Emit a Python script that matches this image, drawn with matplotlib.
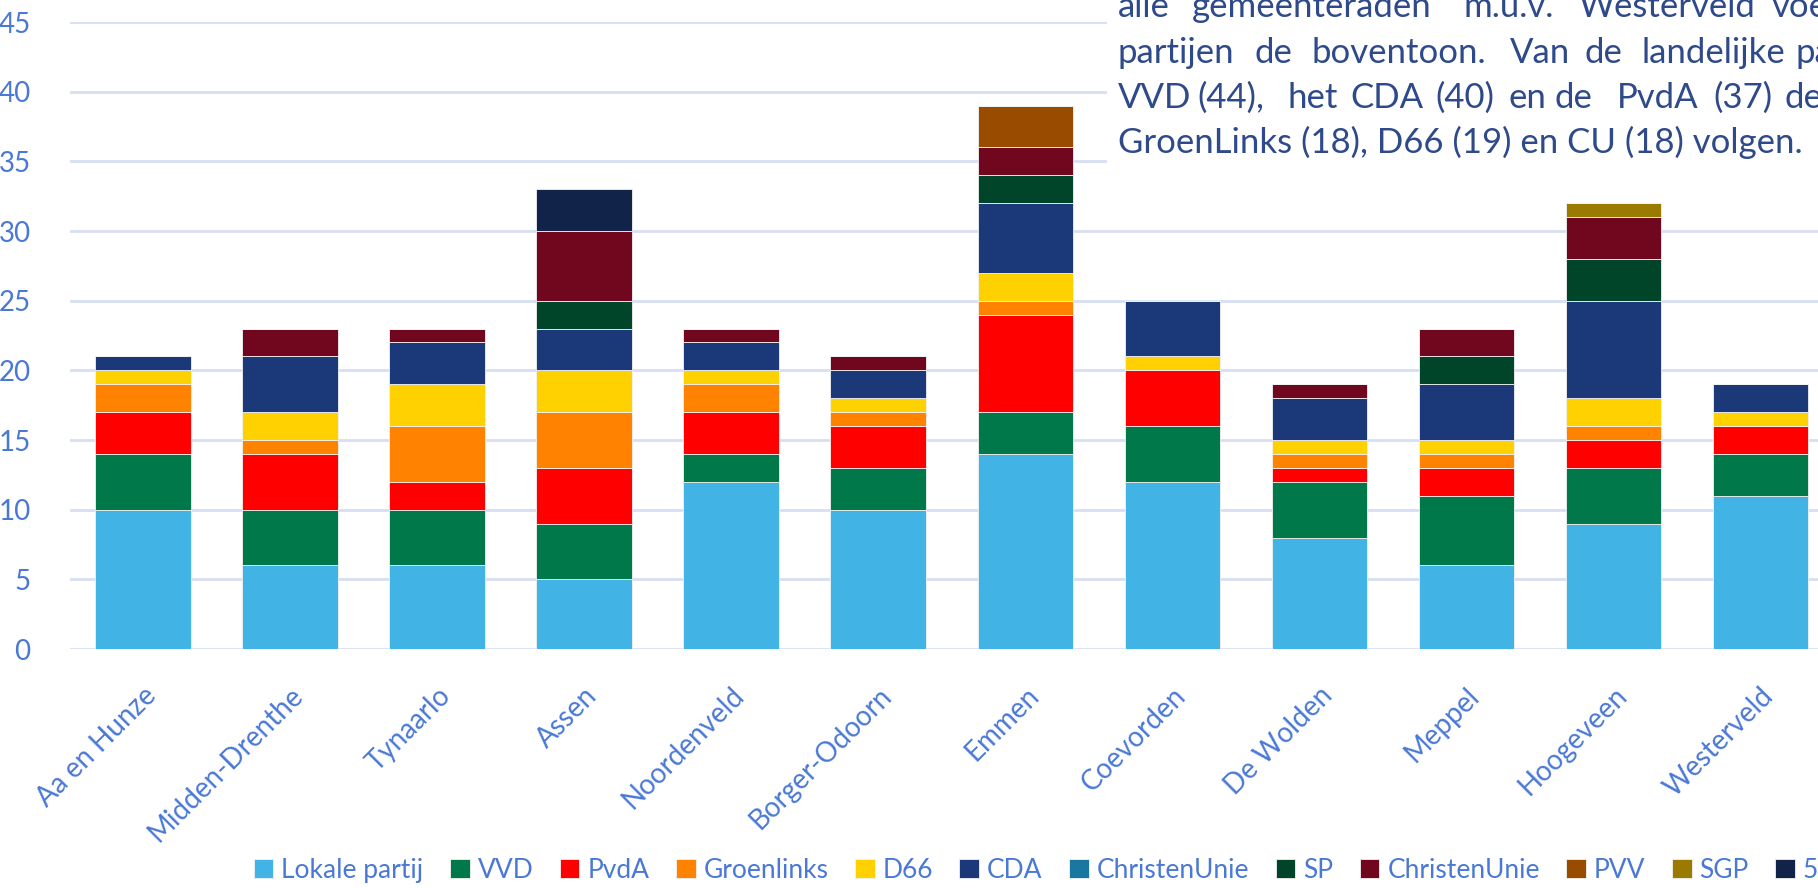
import numpy as np
import matplotlib
matplotlib.use("Agg")
import matplotlib.pyplot as plt
from matplotlib.patches import Rectangle

plt.rcParams['font.family'] = ['Lato', 'DejaVu Sans']

# Zetelverdeling gemeenteraden Drenthe
gemeenten = ['Aa en Hunze', 'Midden-Drenthe', 'Tynaarlo', 'Assen', 'Noordenveld',
             'Borger-Odoorn', 'Emmen', 'Coevorden', 'De Wolden', 'Meppel',
             'Hoogeveen', 'Westerveld']
partijen = ['Lokale partij', 'VVD', 'PvdA', 'Groenlinks', 'D66', 'CDA',
            'ChristenUnie', 'SP', 'ChristenUnie', 'PVV', 'SGP', '50PLUS']

lokaal = [10, 6, 6, 5, 12, 10, 14, 12, 8, 6, 9, 11]
vvd = [4, 4, 4, 4, 2, 3, 3, 4, 4, 5, 4, 3]
pvda = [3, 4, 2, 4, 3, 3, 7, 4, 1, 2, 2, 2]
groenlinks = [2, 1, 4, 4, 2, 1, 1, 0, 1, 1, 1, 0]
d66 = [1, 2, 3, 3, 1, 1, 2, 1, 1, 1, 2, 1]
cda = [1, 4, 3, 3, 2, 2, 5, 4, 3, 4, 7, 2]
cu_leeg = [0, 0, 0, 0, 0, 0, 0, 0, 0, 0, 0, 0]
sp = [0, 0, 0, 2, 0, 0, 2, 0, 0, 2, 3, 0]
cu = [0, 2, 1, 5, 1, 1, 2, 0, 1, 2, 3, 0]
pvv = [0, 0, 0, 0, 0, 0, 3, 0, 0, 0, 0, 0]
sgp = [0, 0, 0, 0, 0, 0, 0, 0, 0, 0, 1, 0]
plus50 = [0, 0, 0, 3, 0, 0, 0, 0, 0, 0, 0, 0]

series = [lokaal, vvd, pvda, groenlinks, d66, cda, cu_leeg, sp, cu, pvv, sgp, plus50]
colors = ['#41B3E5', '#00784A', '#FF0000', '#FF8200', '#FFD100', '#1B3978',
          '#1A78A0', '#004529', '#71061F', '#994C00', '#9A7B00', '#12234A']

tekst_regels = [
    [('alle', 1118), ('gemeenteraden', 1192), ('m.u.v.', 1463), ('Westerveld', 1578), ('voeren', 1772)],
    [('partijen', 1118), ('de', 1255), ('boventoon.', 1312), ('Van', 1510), ('de', 1585),
     ('landelijke', 1642), ('partijen', 1795)],
    [('VVD', 1118), ('(44),', 1197), ('het', 1287), ('CDA', 1350), ('(40)', 1435), ('en', 1508),
     ('de', 1555), ('PvdA', 1617), ('(37)', 1713), ('de', 1785)],
    'GroenLinks (18), D66 (19) en CU (18) volgen.',
]

W, H = 1818, 888
tick_color = '#4A78D6'
grid_color = '#D6DFF3'
text_color = '#2E4A8B'

fig = plt.figure(figsize=(W / 100, H / 100), dpi=100)
ax = fig.add_axes([69.6 / W, (H - 649) / H, (1834 - 69.6) / W, (649 - 22) / H])

x = np.arange(len(gemeenten))
bottom = np.zeros(len(gemeenten))
for naam, vals, c in zip(partijen, series, colors):
    vals = np.array(vals, dtype=float)
    ax.bar(x, vals, width=0.65, bottom=bottom, color=c, label=naam,
           edgecolor='#F2F2F2', linewidth=0.6, zorder=3)
    bottom += vals

ax.set_xlim(-0.5, len(gemeenten) - 0.5)
ax.set_ylim(0, 45)
ax.set_yticks(range(0, 46, 5))
ax.yaxis.grid(True, color=grid_color, linewidth=2, zorder=0)
ax.set_axisbelow(True)
for s in ax.spines.values():
    s.set_visible(False)
ax.tick_params(axis='both', length=0, colors=tick_color, labelsize=20)
ax.tick_params(axis='y', pad=28)
ax.set_xticks(x)
ax.set_xticklabels(gemeenten, rotation=45, ha='right', va='top',
                   rotation_mode='anchor')
ax.tick_params(axis='x', pad=24)

# legenda onderaan
leg = fig.legend(loc='center left', bbox_to_anchor=(243 / W, 18 / H), ncol=12,
                 frameon=False, fontsize=19, handlelength=0.75, handleheight=0.75,
                 handletextpad=0.3, columnspacing=1.0, borderaxespad=0)
for t in leg.get_texts():
    t.set_color(tick_color)

# tekstvak rechtsboven
fig.patches.append(Rectangle((1107 / W, (H - 190) / H), (W - 1107) / W, 190 / H,
                             transform=fig.transFigure, facecolor='white',
                             edgecolor='none', zorder=5))
baselines = [17, 63, 108, 153]
for regel, yb in zip(tekst_regels, baselines):
    if isinstance(regel, str):
        regel = [(regel, 1118)]
    for woord, xp in regel:
        fig.text(xp / W, (H - yb) / H, woord, fontsize=25, color=text_color,
                 ha='left', va='baseline', zorder=6)

fig.savefig('out.png', dpi=100)
